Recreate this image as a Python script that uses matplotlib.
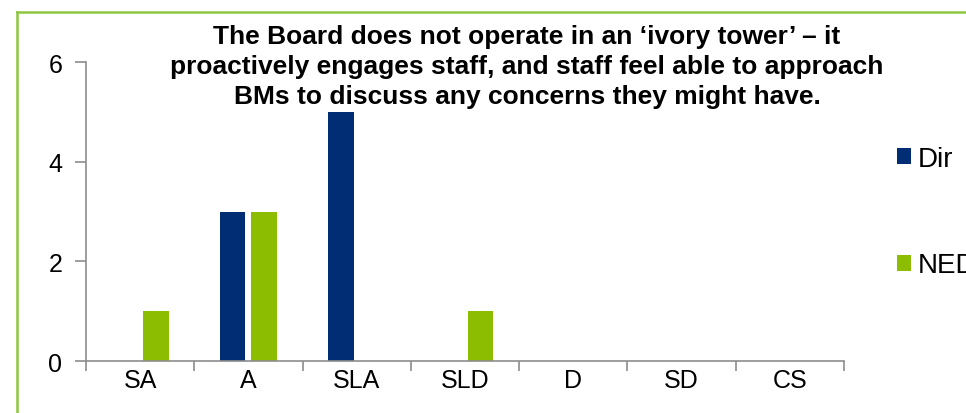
import matplotlib
matplotlib.use('Agg')
import matplotlib.pyplot as plt
from matplotlib.lines import Line2D
import numpy as np

plt.rcParams['font.family'] = ['Liberation Sans', 'DejaVu Sans']

# 回答カテゴリと人数
categories = ['SA', 'A', 'SLA', 'SLD', 'D', 'SD', 'CS']
dir_counts = [0, 3, 5, 0, 0, 0, 0]
ned_counts = [1, 3, 0, 1, 0, 0, 0]
y_ticks = [0, 2, 4, 6]
title = ("The Board does not operate in an \u2018ivory tower\u2019 \u2013 it\n"
         "proactively engages staff, and staff feel able to approach\n"
         "BMs to discuss any concerns they might have.")

navy = '#002D74'
lime = '#8CBD00'
grey = '#8C8C8C'

fig = plt.figure(figsize=(9.66, 4.14), dpi=100)
ax = fig.add_axes([0.089, 0.1256, 0.7847, 0.7222])

x = np.arange(len(categories))
w = 0.235
off = 0.145
ax.bar(x - off, dir_counts, w, color=navy, label='Dir')
ax.bar(x + off, ned_counts, w, color=lime, label='NED')

ax.set_xlim(-0.5, len(categories) - 0.5)
ax.set_ylim(0, 6)
ax.set_yticks(y_ticks)

# 区切り目盛りは境界に、ラベルは中央に
ax.set_xticks(np.arange(-0.5, len(categories), 1.0))
ax.set_xticklabels([])
ax.set_xticks(x, minor=True)
ax.set_xticklabels(categories, minor=True)
ax.tick_params(axis='x', which='major', length=7, color=grey, width=1.2)
ax.tick_params(axis='x', which='minor', length=0, pad=5, labelsize=18)
ax.tick_params(axis='y', length=8, color=grey, width=1.2, pad=9, labelsize=18)

for s in ['top', 'right']:
    ax.spines[s].set_visible(False)
for s in ['left', 'bottom']:
    ax.spines[s].set_color(grey)
    ax.spines[s].set_linewidth(1.2)

fig.text(0.5455, 0.838, title, ha='center', va='center', fontsize=19,
         fontweight='bold', linespacing=1.3)

ax.legend(loc='center left', bbox_to_anchor=(0.929, 0.485), bbox_transform=fig.transFigure,
          frameon=False, fontsize=20, handlelength=0.5, handleheight=0.5,
          handletextpad=0.25, labelspacing=2.9, borderaxespad=0, borderpad=0)

# 外枠（上と左のみ見える）
fig.add_artist(Line2D([0.0176, 0.0176], [0, 0.9686], transform=fig.transFigure,
                      color='#8DC63F', lw=1.8))
fig.add_artist(Line2D([0.0176, 1.0], [0.9686, 0.9686], transform=fig.transFigure,
                      color='#8DC63F', lw=1.8))

fig.savefig('out.png', dpi=100)
